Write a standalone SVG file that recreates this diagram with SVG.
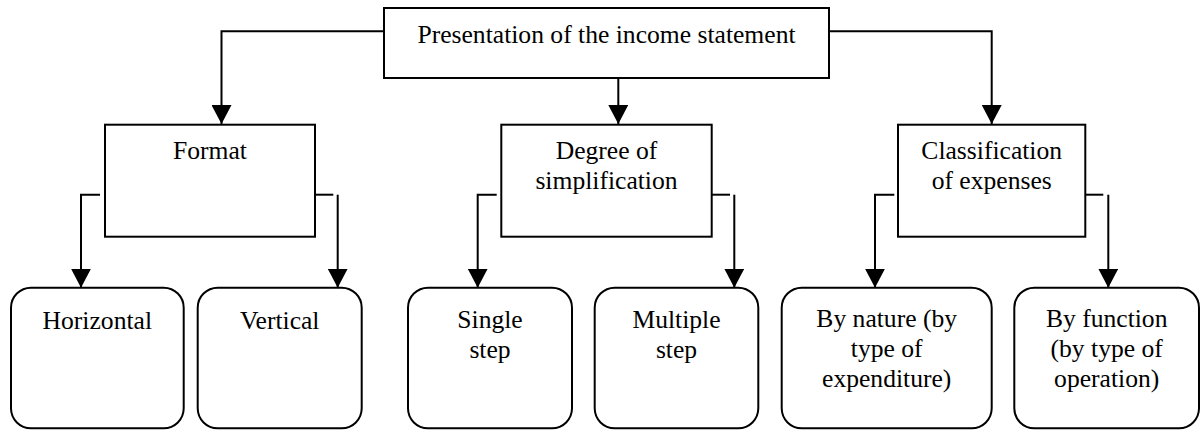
<svg xmlns="http://www.w3.org/2000/svg" width="1201" height="431" viewBox="0 0 1201 431">
<style>
.box{fill:#fff;stroke:#000;stroke-width:2}
.ln{fill:none;stroke:#000;stroke-width:2}
.t{font-family:'Liberation Serif','DejaVu Serif',serif;font-size:25.6px;fill:#000;text-anchor:middle}
</style>
<defs>
<marker id="ah" markerUnits="userSpaceOnUse" viewBox="0 0 19 20" refX="19" refY="10" markerWidth="19" markerHeight="20" orient="auto">
<path d="M0,0 L19,10 L0,20 z" fill="#000"/>
</marker>
</defs>
<rect width="1201" height="431" fill="#fff"/>
<g id="connectors">
<path class="ln" d="M384,31.3 H221.5 V124" marker-end="url(#ah)"/>
<path class="ln" d="M618.3,78 V124" marker-end="url(#ah)"/>
<path class="ln" d="M829,31.3 H991.7 V124" marker-end="url(#ah)"/>
<path class="ln" d="M100,194.7 H81 V287.7" marker-end="url(#ah)"/>
<path class="ln" d="M315,194.7 H333.3"/>
<path class="ln" d="M337.7,194.7 V287.7" marker-end="url(#ah)"/>
<path class="ln" d="M496.7,194.7 H477.7 V287.7" marker-end="url(#ah)"/>
<path class="ln" d="M711.7,194.7 H730"/>
<path class="ln" d="M734.3,194.7 V287.7" marker-end="url(#ah)"/>
<path class="ln" d="M894.3,194.7 H875 V287.7" marker-end="url(#ah)"/>
<path class="ln" d="M1085.3,194.7 H1103.3"/>
<path class="ln" d="M1108.3,194.7 V287.7" marker-end="url(#ah)"/>
</g>
<g font-family="Liberation Serif, DejaVu Serif, serif">
<g id="root">
<rect class="box" x="384" y="8" width="445" height="70"/>
<text class="t" x="606.5" y="43">Presentation of the income statement</text>
</g>
<g id="format">
<rect class="box" x="105" y="124.7" width="210" height="112"/>
<text class="t" x="210" y="159.3">Format</text>
</g>
<g id="degree">
<rect class="box" x="501.3" y="124.7" width="210.4" height="112"/>
<text class="t" x="606.5" y="159.3">Degree of</text>
<text class="t" x="606.5" y="189.3">simplification</text>
</g>
<g id="classification">
<rect class="box" x="898" y="124.7" width="187.3" height="112"/>
<text class="t" x="991.7" y="159.3">Classification</text>
<text class="t" x="991.7" y="189.3">of expenses</text>
</g>
<g id="horizontal">
<rect class="box" x="11" y="287.7" width="172.7" height="140.6" rx="20" ry="20"/>
<text class="t" x="97.3" y="329">Horizontal</text>
</g>
<g id="vertical">
<rect class="box" x="197.7" y="287.7" width="164" height="140.6" rx="20" ry="20"/>
<text class="t" x="279.7" y="329">Vertical</text>
</g>
<g id="single">
<rect class="box" x="408" y="287.7" width="164" height="140.6" rx="20" ry="20"/>
<text class="t" x="490" y="328.3">Single</text>
<text class="t" x="490" y="358.3">step</text>
</g>
<g id="multiple">
<rect class="box" x="594.7" y="287.7" width="163.6" height="140.6" rx="20" ry="20"/>
<text class="t" x="676.5" y="328.3">Multiple</text>
<text class="t" x="676.5" y="358.3">step</text>
</g>
<g id="nature">
<rect class="box" x="781.7" y="287.7" width="210" height="140.6" rx="20" ry="20"/>
<text class="t" x="886.7" y="327.3">By nature (by</text>
<text class="t" x="886.7" y="357.3">type of</text>
<text class="t" x="886.7" y="387.3">expenditure)</text>
</g>
<g id="function">
<rect class="box" x="1014.3" y="287.7" width="184.7" height="140.6" rx="20" ry="20"/>
<text class="t" x="1106.7" y="327.3">By function</text>
<text class="t" x="1106.7" y="357.3">(by type of</text>
<text class="t" x="1106.7" y="387.3">operation)</text>
</g>
</g>
</svg>
